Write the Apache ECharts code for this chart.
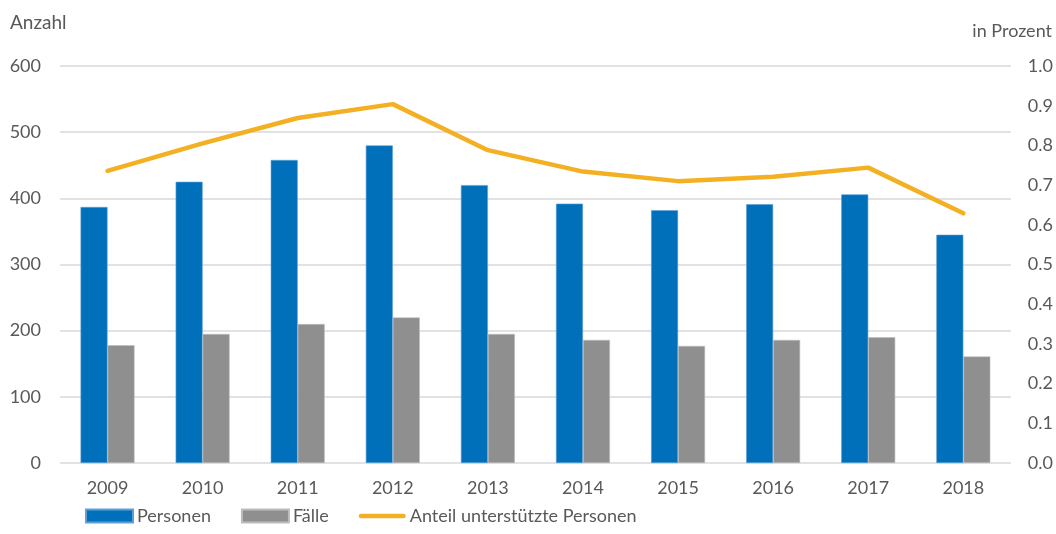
<!DOCTYPE html>
<html>
<head>
<meta charset="utf-8">
<script src="https://cdn.jsdelivr.net/npm/echarts@6/dist/echarts.min.js"></script>
<style>
  html, body { margin: 0; padding: 0; background: #fff; }
  #chart { width: 1056px; height: 534px; }
</style>
</head>
<body>
<div id="chart"></div>
<script>
// data
const years = ['2009', '2010', '2011', '2012', '2013', '2014', '2015', '2016', '2017', '2018'];
const personen = [387, 425, 458, 480, 420, 392, 382, 391, 406, 345];
const faelle = [178, 195, 210, 220, 195, 186, 177, 186, 190, 161];
const anteil = [0.736, 0.805, 0.869, 0.904, 0.788, 0.734, 0.710, 0.721, 0.744, 0.629];

const textColor = '#595959';
const fontFamily = 'Lato, "Open Sans", sans-serif';

var chart = echarts.init(document.getElementById('chart'));

option = {
    animation: false,
    textStyle: { fontFamily: fontFamily, color: textColor },
    grid: { left: 60, right: 43, top: 66, bottom: 71, containLabel: false },
    graphic: [
        { type: 'text', left: 10, top: 13, style: { text: 'Anzahl', fill: textColor, font: '19px ' + fontFamily } },
        { type: 'text', right: 4, top: 22, style: { text: 'in Prozent', fill: textColor, font: '18px ' + fontFamily } }
    ],
    legend: {
        left: 80,
        bottom: 4,
        itemWidth: 47,
        itemHeight: 13,
        itemGap: 30,
        symbolKeepAspect: true,
        textStyle: { color: textColor, fontSize: 18, fontFamily: fontFamily, padding: [0, 0, 0, -1] },
        data: [
            { name: 'Personen', icon: 'rect' },
            { name: 'Fälle', icon: 'rect' },
            {
                name: 'Anteil unterstützte Personen',
                icon: 'path://M2.25,0 L44.75,0 A2.25,2.25 0 0 1 44.75,4.5 L2.25,4.5 A2.25,2.25 0 0 1 2.25,0 Z'
            }
        ]
    },
    xAxis: {
        type: 'category',
        data: years,
        axisLine: { show: false },
        axisTick: { show: false },
        axisLabel: { color: textColor, fontSize: 18, margin: 16 }
    },
    yAxis: [
        {
            type: 'value',
            min: 0, max: 600, interval: 100,
            axisLine: { show: false },
            axisTick: { show: false },
            axisLabel: { color: textColor, fontSize: 18, margin: 19 },
            splitLine: { lineStyle: { color: '#d9d9d9', width: 1.5 } }
        },
        {
            type: 'value',
            min: 0, max: 1, interval: 0.1,
            axisLine: { show: false },
            axisTick: { show: false },
            axisLabel: {
                color: textColor, fontSize: 18, margin: 17,
                formatter: function (v) { return v.toFixed(1); }
            },
            splitLine: { show: false }
        }
    ],
    series: [
        {
            name: 'Personen',
            type: 'bar',
            data: personen,
            barWidth: 27,
            barGap: '0%',
            itemStyle: { color: '#0070ba', borderColor: '#5e9fd6', borderWidth: 0.6 }
        },
        {
            name: 'Fälle',
            type: 'bar',
            data: faelle,
            barWidth: 27,
            barGap: '0%',
            itemStyle: { color: '#8f8f8f', borderColor: '#bdbdbd', borderWidth: 0.6 }
        },
        {
            name: 'Anteil unterstützte Personen',
            type: 'line',
            yAxisIndex: 1,
            data: anteil,
            symbol: 'none',
            lineStyle: { color: '#f3b022', width: 4.5, cap: 'round', join: 'round' },
            itemStyle: { color: '#f3b022' }
        }
    ]
};

chart.setOption(option);
</script>
</body>
</html>
